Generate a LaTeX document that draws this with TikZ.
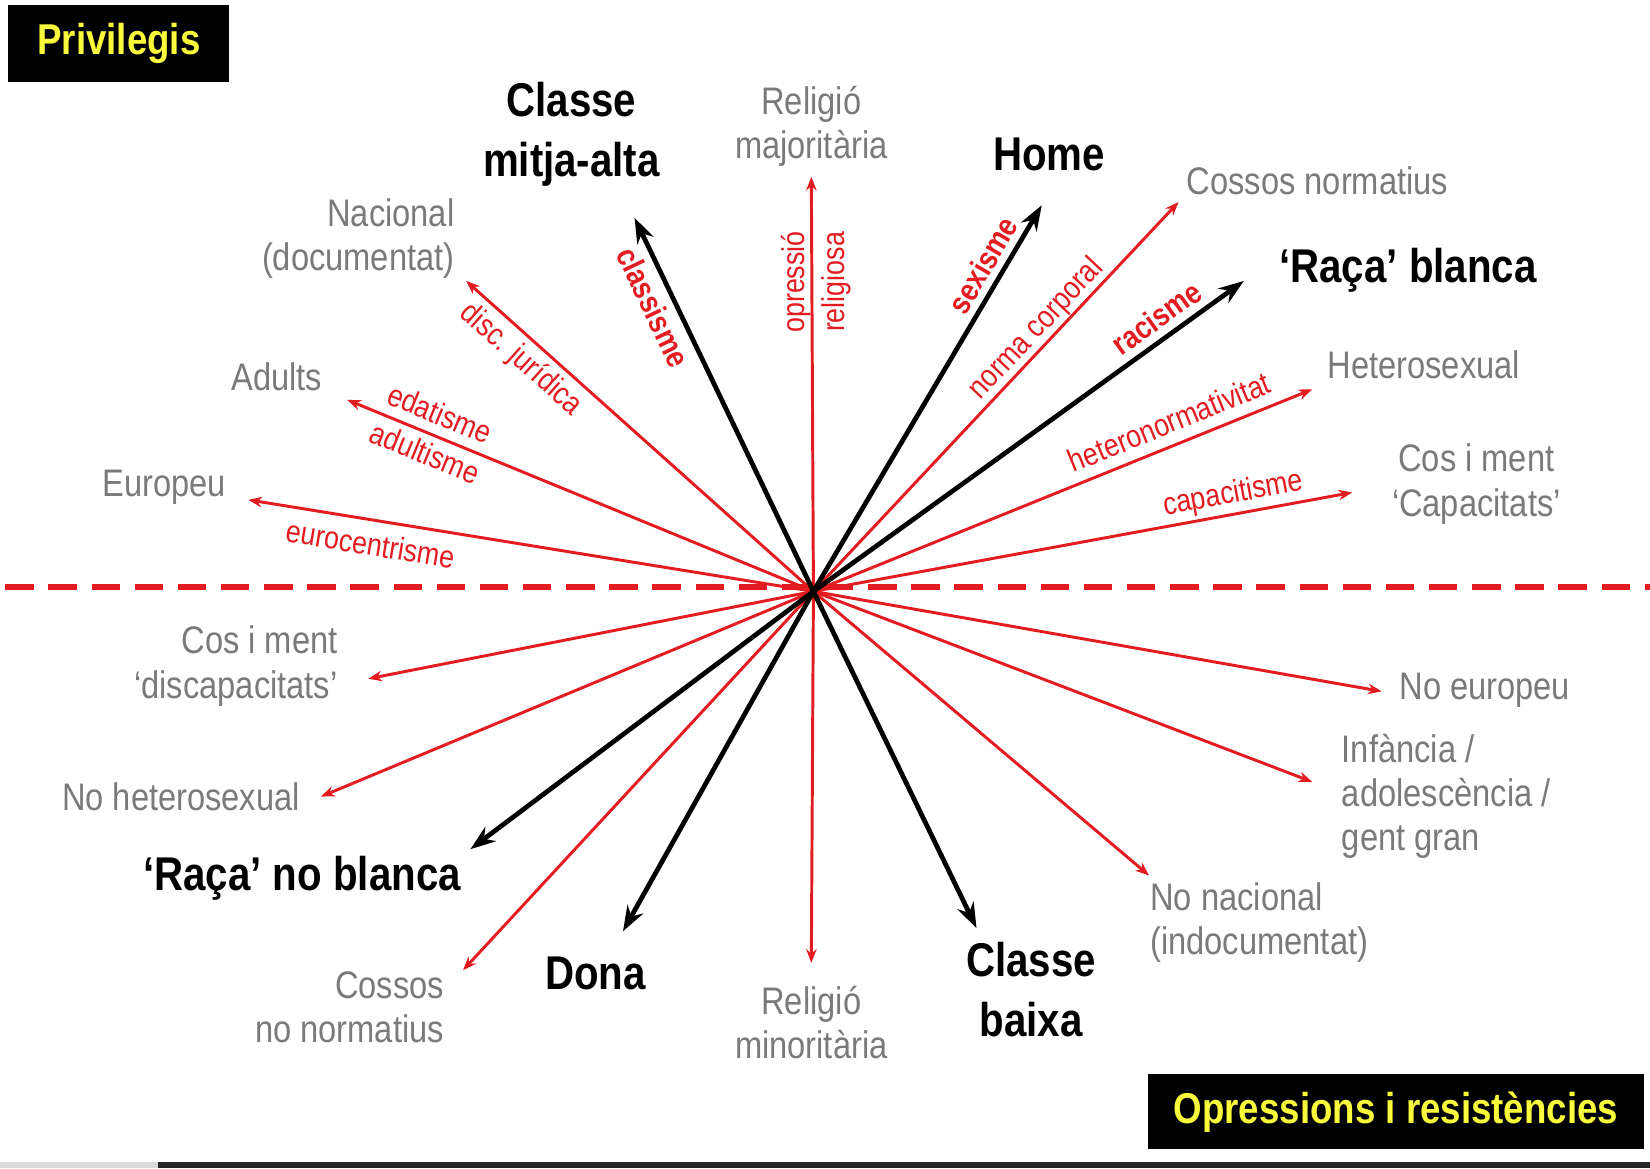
\documentclass[tikz,border=0pt]{standalone}
\usepackage{fontspec}
\setmainfont{Liberation Sans}[FakeStretch=0.85]
\usepackage{xcolor}
\usetikzlibrary{arrows.meta,positioning}
\definecolor{vermell}{RGB}{226,28,32}
\definecolor{grisos}{RGB}{122,122,122}
\definecolor{groc}{RGB}{250,250,60}

\begin{document}
\begin{tikzpicture}[
        x=1pt, y=-1pt,
        >=Stealth,
        fort/.style={->,line width=4.5pt,>={Stealth[length=24pt,width=17pt]}},
        fluix/.style={->,line width=2.8pt,draw=vermell,>={Stealth[length=13pt,width=10pt]}},
        nom/.style={font=\fontsize{45}{57}\selectfont\bfseries,align=center,inner sep=0pt},
        etiqueta/.style={font=\fontsize{36.5}{42}\selectfont,text=grisos,align=center,inner sep=0pt},
        opressio/.style={font=\fontsize{30}{34}\selectfont,text=vermell,inner sep=0pt},
        caixa/.style={fill=black,text=groc,font=\fontsize{41}{48}\selectfont\bfseries,inner sep=0pt}
    ]
        \useasboundingbox (0,0) rectangle (1568,1110);

        % eix
        \coordinate (o) at (773,562);
        \coordinate (eixe) at (5,558);
        \coordinate (eixd) at (1568,558);
        \draw[vermell,line width=5.5pt,dash pattern=on 27pt off 14pt] (eixe) -- (eixd);

        % privilegis
        \node[etiqueta] (majoritaria) at (771,120) {Religió\\majoritària};
        \node[etiqueta,align=right,anchor=east] (nacional) at (432,227) {Nacional\\(documentat)};
        \node[etiqueta] (adults) at (263,358) {Adults};
        \node[etiqueta] (europeu) at (156,463) {Europeu};
        \node[etiqueta] (normatius) at (1252,172) {Cossos normatius};
        \node[etiqueta] (hetero) at (1353,347) {Heterosexual};
        \node[etiqueta] (capacitats) at (1403,460) {Cos i ment\\‘Capacitats’};

        % opressions
        \node[etiqueta,align=right,anchor=east] (discapacitats) at (321,633) {Cos i ment\\‘discapacitats’};
        \node[etiqueta] (nohetero) at (172,757) {No heterosexual};
        \node[etiqueta,align=right,anchor=east] (nonormatius) at (422,957) {Cossos\\no normatius};
        \node[etiqueta] (minoritaria) at (771,972) {Religió\\minoritària};
        \node[etiqueta,align=left,anchor=west] (nonacional) at (1093,877) {No nacional\\(indocumentat)};
        \node[etiqueta,align=left,anchor=west] (edats) at (1275,757) {Infància /\\adolescència /\\gent gran};
        \node[etiqueta] (noeuropeu) at (1411,656) {No europeu};

        \node[nom] (mitja) at (543,128) {Classe\\mitja-alta};
        \node[nom] (home) at (997,147) {Home};
        \node[nom] (blanca) at (1338,257) {‘Raça’ blanca};
        \node[nom] (noblanca) at (287,835) {‘Raça’ no blanca};
        \node[nom] (dona) at (566,925) {Dona};
        \node[nom] (baixa) at (980,940) {Classe\\baixa};

        % puntes
        \coordinate (t-majoritaria) at (771,168);
        \coordinate (t-nacional) at (443,267);
        \coordinate (t-adults) at (330,380);
        \coordinate (t-europeu) at (236,475);
        \coordinate (t-normatius) at (1120,192);
        \coordinate (t-hetero) at (1247,370);
        \coordinate (t-capacitats) at (1285,468);
        \coordinate (t-discapacitats) at (350,645);
        \coordinate (t-nohetero) at (305,757);
        \coordinate (t-nonormatius) at (440,922);
        \coordinate (t-minoritaria) at (771,915);
        \coordinate (t-nonacional) at (1092,832);
        \coordinate (t-edats) at (1247,743);
        \coordinate (t-noeuropeu) at (1313,657);
        \coordinate (t-mitja) at (603,207);
        \coordinate (t-home) at (990,195);
        \coordinate (t-blanca) at (1182,267);
        \coordinate (t-noblanca) at (447,807);
        \coordinate (t-dona) at (592,885);
        \coordinate (t-baixa) at (928,882);

        \draw[fluix] (o) -- (t-majoritaria);
        \draw[fluix] (o) -- (t-nacional);
        \draw[fluix] (o) -- (t-adults);
        \draw[fluix] (o) -- (t-europeu);
        \draw[fluix] (o) -- (t-normatius);
        \draw[fluix] (o) -- (t-hetero);
        \draw[fluix] (o) -- (t-capacitats);
        \draw[fluix] (o) -- (t-discapacitats);
        \draw[fluix] (o) -- (t-nohetero);
        \draw[fluix] (o) -- (t-nonormatius);
        \draw[fluix] (o) -- (t-minoritaria);
        \draw[fluix] (o) -- (t-nonacional);
        \draw[fluix] (o) -- (t-edats);
        \draw[fluix] (o) -- (t-noeuropeu);

        \draw[fort] (o) -- (t-mitja);
        \draw[fort] (o) -- (t-home);
        \draw[fort] (o) -- (t-blanca);
        \draw[fort] (o) -- (t-noblanca);
        \draw[fort] (o) -- (t-dona);
        \draw[fort] (o) -- (t-baixa);

        % noms de les opressions
        \node[opressio,rotate=-64.4] (classisme) at (621,292) {\bfseries classisme};
        \node[opressio,rotate=59.4] (sexisme) at (934,252) {\bfseries sexisme};
        \node[opressio,rotate=35.8] (racisme) at (1099,302) {\bfseries racisme};
        \node[opressio,rotate=46.8] (corporal) at (985,313) {norma corporal};
        \node[opressio,rotate=22.1] (heteronorma) at (1111,401) {heteronormativitat};
        \node[opressio,rotate=10.4] (capacitisme) at (1172,470) {capacitisme};
        \node[opressio,rotate=90] (opressio) at (757,268) {opressió};
        \node[opressio,rotate=90] (religiosa) at (795,268) {religiosa};
        \node[opressio,rotate=-41.8] (juridica) at (495,342) {disc. jurídica};
        \node[opressio,rotate=-22.3] (edatisme) at (418,393) {edatisme};
        \node[opressio,rotate=-22.3] (adultisme) at (404,430) {adultisme};
        \node[opressio,rotate=-9.2] (eurocentrisme) at (352,517) {eurocentrisme};

        % caixes
        \node[caixa,minimum width=210pt,minimum height=73pt] (privilegis) at (113,41.5) {Privilegis};
        \node[caixa,minimum width=471pt,minimum height=71pt] (resistencies) at (1326.5,1056.5) {Opressions i resistències};

        \fill[black!15] (0,1104) rectangle (150,1110);
        \fill[black!85] (150,1104) rectangle (1568,1110);
    \end{tikzpicture}
\end{document}
